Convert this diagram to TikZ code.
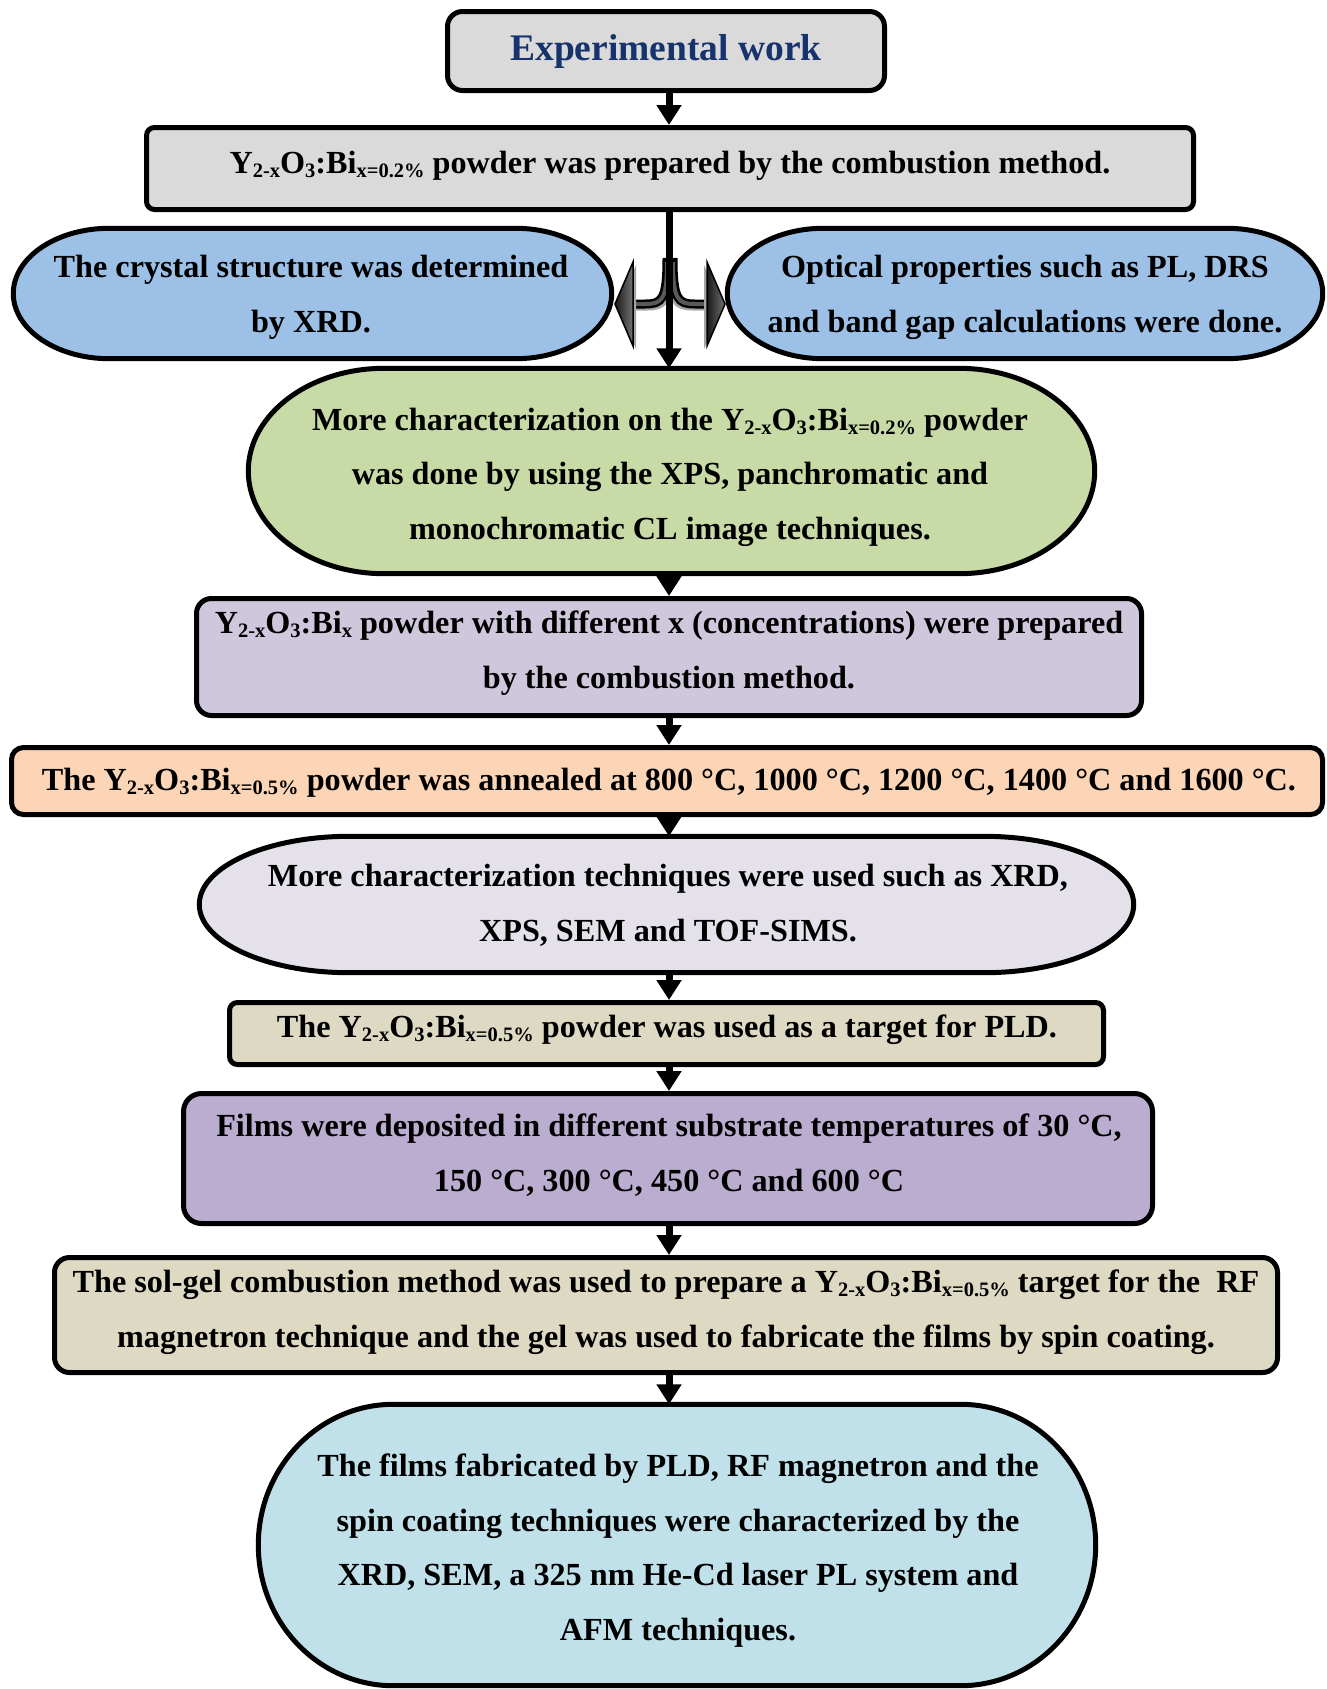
\documentclass[tikz,border=0pt]{standalone}
\usepackage{fontspec}
\setmainfont{Liberation Serif}
\usetikzlibrary{arrows.meta,calc}
\definecolor{ttl}{HTML}{17336E}
\definecolor{cgray}{HTML}{DADADA}
\definecolor{cblue}{HTML}{9DC0E6}
\definecolor{cgreen}{HTML}{C8DAA6}
\definecolor{cpurp}{HTML}{CFC8DD}
\definecolor{corange}{HTML}{FBD5B5}
\definecolor{clav}{HTML}{E5E1EB}
\definecolor{ctan}{HTML}{DDD9C3}
\definecolor{cpurp2}{HTML}{BAADCF}
\definecolor{caqua}{HTML}{C0E1E9}
\newcommand\sbs[1]{\raisebox{-4pt}{\fontsize{20.5}{20.5}\selectfont #1}}
\newcommand\termshape[4]{%
 \draw[outl, fill=#2] ([xshift=#3]#1.north west) -- ([xshift=-#3]#1.north east)
  .. controls ([xshift=-0.4477*#3]#1.north east) and ([yshift=0.5523*#4]#1.east) .. (#1.east)
  .. controls ([yshift=-0.5523*#4]#1.east) and ([xshift=-0.4477*#3]#1.south east) .. ([xshift=-#3]#1.south east)
  -- ([xshift=#3]#1.south west)
  .. controls ([xshift=0.4477*#3]#1.south west) and ([yshift=-0.5523*#4]#1.west) .. (#1.west)
  .. controls ([yshift=0.5523*#4]#1.west) and ([xshift=0.4477*#3]#1.north west) .. ([xshift=#3]#1.north west) -- cycle;}
\tikzset{
  outl/.style={draw=black, line width=5pt},
  box/.style={rectangle, draw=black, line width=5pt, inner sep=0pt},
  shp/.style={rectangle, draw=none, inner sep=0pt},
  txt/.style={align=center, inner sep=0pt, font=\bfseries\fontsize{32.2}{54.5}\selectfont, anchor=base},
  arr/.style={line width=7pt, -{Triangle[width=24pt,length=20pt]}},
}
\begin{document}
\begin{tikzpicture}[x=1pt,y=-1pt]
\useasboundingbox[fill=white] (0,0) rectangle (1327,1689);
\coordinate (ax) at (669,0);
% shapes
\node[box, fill=cgray, rounded corners=15pt, minimum width=437, minimum height=79] (n1) at (666,51) {};
\node[box, fill=cgray, rounded corners=8pt, minimum width=1047, minimum height=82] (n2) at (670,168.5) {};
\node[shp, minimum width=598, minimum height=130] (n3l) at (312.5,293.5) {};
\node[shp, minimum width=595, minimum height=130] (n3r) at (1025,293.5) {};
\node[shp, minimum width=846, minimum height=205] (n4) at (671.5,471) {};
\node[box, fill=cpurp, rounded corners=15pt, minimum width=945, minimum height=117] (n5) at (669,657) {};
\node[box, fill=corange, rounded corners=12pt, minimum width=1311, minimum height=67] (n6) at (667,781) {};
\node[shp, minimum width=934, minimum height=136] (n7) at (666.5,904.5) {};
\node[box, fill=ctan, rounded corners=8pt, minimum width=874, minimum height=62] (n8) at (666.5,1033.5) {};
\node[box, fill=cpurp2, rounded corners=18pt, minimum width=969, minimum height=130] (n9) at (668,1158.5) {};
\node[box, fill=ctan, rounded corners=15pt, minimum width=1223, minimum height=115] (n10) at (666,1315) {};
\node[shp, minimum width=837, minimum height=281] (n11) at (677,1545) {};
\termshape{n3l}{cblue}{96}{65}
\termshape{n3r}{cblue}{96}{65}
\termshape{n4}{cgreen}{136}{102.5}
\termshape{n7}{clav}{150}{68}
\termshape{n11}{caqua}{135}{140.5}
% texts (anchor = baseline of last line)
\node[txt, font=\bfseries\fontsize{37.5}{45}\selectfont, text=ttl] (t1) at (666,60) {Experimental work};
\node[txt] (t2) at (670,173) {Y\sbs{2-x}O\sbs{3}:Bi\sbs{x=0.2\%} powder was prepared by the combustion method.};
\node[txt] (t3l) at (311,332) {The crystal structure was determined\\by XRD.};
\node[txt] (t3r) at (1025,332) {Optical properties such as PL, DRS\\and band gap calculations were done.};
\node[txt] (t4) at (670,539) {More characterization on the Y\sbs{2-x}O\sbs{3}:Bi\sbs{x=0.2\%} powder\\was done by using the XPS, panchromatic and\\monochromatic CL image techniques.};
\node[txt] (t5) at (669,688) {Y\sbs{2-x}O\sbs{3}:Bi\sbs{x} powder with different x (concentrations) were prepared\\by the combustion method.};
\node[txt] (t6) at (669,790) {The Y\sbs{2-x}O\sbs{3}:Bi\sbs{x=0.5\%} powder was annealed at 800 °C, 1000 °C, 1200 °C, 1400 °C and 1600 °C.};
\node[txt] (t7) at (668,941) {More characterization techniques were used such as XRD,\\XPS, SEM and TOF-SIMS.};
\node[txt] (t8) at (667,1037) {The Y\sbs{2-x}O\sbs{3}:Bi\sbs{x=0.5\%} powder was used as a target for PLD.};
\node[txt] (t9) at (669,1191) {Films were deposited in different substrate temperatures of 30 °C,\\150 °C, 300 °C, 450 °C and 600 °C};
\node[txt] (t10) at (666,1347) {The sol-gel combustion method was used to prepare a Y\sbs{2-x}O\sbs{3}:Bi\sbs{x=0.5\%} target for the\ \ RF\\magnetron technique and the gel was used to fabricate the films by spin coating.};
\node[txt] (t11) at (678,1640) {The films fabricated by PLD, RF magnetron and the\\spin coating techniques were characterized by the\\XRD, SEM, a 325 nm He-Cd laser PL system and\\AFM techniques.};
% branch arrows
\foreach \s in {1,-1}{
  \begin{scope}[shift={(670,0)}, xscale=\s]
   \draw[line width=9pt, black!35, shift={(2,2)}] (-3,258) .. controls (-3,300) and (-8,304) .. (-25,304) -- (-37,304);
   \draw[line width=9pt, black] (-3,258) .. controls (-3,300) and (-8,304) .. (-25,304) -- (-37,304);
   \draw[line width=4pt, black!65] (-3,262) .. controls (-3,300) and (-8,304) .. (-25,304) -- (-38,304);
   \fill[black!35] (-34,265) -- (-52,307) -- (-34,349) -- cycle;
   \shade[left color=black!90, right color=black!55, draw=black, line width=1.5pt] (-37,262) -- (-55,304) -- (-37,346) -- cycle;
  \end{scope}
}
% main arrows
\draw[arr] (n1.south -| ax) -- (n2.north -| ax);
\draw[arr] (n2.south -| ax) -- (n4.north -| ax);
\draw[arr] (n4.south -| ax) -- (n5.north -| ax);
\draw[arr] (n5.south -| ax) -- (n6.north -| ax);
\draw[arr] (n6.south -| ax) -- (n7.north -| ax);
\draw[arr] (n7.south -| ax) -- (n8.north -| ax);
\draw[arr] (n8.south -| ax) -- (n9.north -| ax);
\draw[arr] (n9.south -| ax) -- (n10.north -| ax);
\draw[arr] (n10.south -| ax) -- (n11.north -| ax);
\end{tikzpicture}
\end{document}
